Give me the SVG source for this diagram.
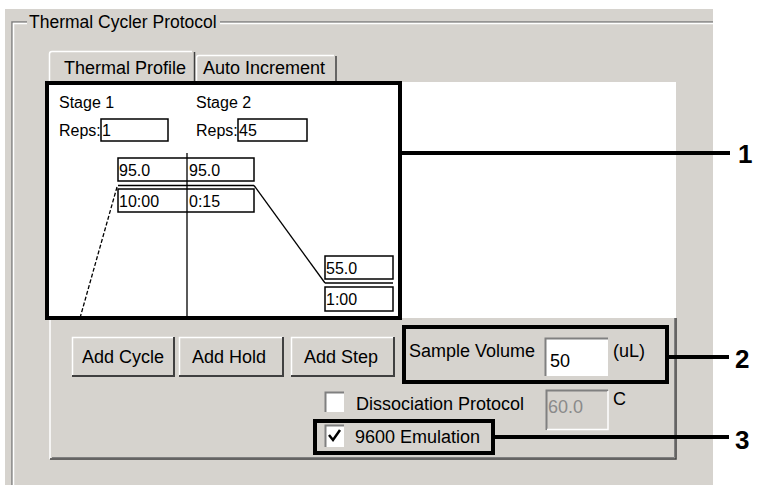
<svg xmlns="http://www.w3.org/2000/svg" width="759" height="485" viewBox="0 0 759 485">
<style>
.ui{font-family:"Liberation Sans",Arial,sans-serif;font-size:18px;fill:#000}
.sm{font-family:"Liberation Sans",Arial,sans-serif;font-size:16px;fill:#000}
.num{font-family:"Liberation Sans",Arial,sans-serif;font-size:26px;font-weight:bold;fill:#000}
.hl{fill:none;stroke:#000;stroke-width:4}
.lead{stroke:#000;stroke-width:4;fill:none}
.fld{fill:#fff;stroke:#000;stroke-width:1.5}
.dk{stroke:#808080;stroke-width:1.5;fill:none}
.lt{stroke:#fff;stroke-width:1.5;fill:none}
.gr{stroke:#000;stroke-width:1.3;fill:none}
</style>
<rect x="0" y="0" width="759" height="485" fill="#fff"/>
<rect x="5" y="9" width="708" height="476" fill="#d6d3ce"/>
<g id="groupbox">
<path class="dk" d="M12,485 V22 H27 M220,22 H713"/>
<path class="lt" d="M13.5,485 V23.5 H27 M220,23.5 H713"/>
<text class="ui" x="29" y="28" style="font-size:17.5px">Thermal Cycler Protocol</text>
</g>
<g id="tabs">
<path d="M196,82 V58 Q196,55 199,55 H334 Q337,55 337,58 V82" fill="#d6d3ce"/>
<path class="lt" d="M196.5,82 V58 Q196.5,55.5 199,55.5 H334"/>
<path d="M336,56 V82" stroke="#404040" stroke-width="1.5"/>
<text class="ui" x="203" y="74">Auto Increment</text>
<path d="M49,84 V54 Q49,51 52,51 H192 Q195,51 195,54 V84" fill="#d6d3ce"/>
<path class="lt" d="M49.5,84 V54 Q49.5,51.5 52,51.5 H192"/>
<path d="M194.5,52 V82" stroke="#404040" stroke-width="1.5"/>
<text class="ui" x="64" y="74">Thermal Profile</text>
</g>
<g id="panel">
<rect x="47" y="82" width="629" height="236" fill="#fff"/>
<path class="lt" d="M50,318 V459"/>
<path d="M50,459 H676 V318" stroke="#404040" stroke-width="1.5" fill="none"/>
<path d="M52,457.5 H674.5 V318" stroke="#808080" stroke-width="1" fill="none"/>
</g>
<g id="profile">
<text class="sm" x="59" y="108">Stage 1</text>
<text class="sm" x="196" y="108">Stage 2</text>
<text class="sm" x="59" y="136">Reps:</text>
<rect class="fld" x="101" y="119" width="67" height="22"/>
<text class="sm" x="102" y="136">1</text>
<text class="sm" x="196" y="136">Reps:</text>
<rect class="fld" x="238" y="119" width="69" height="22"/>
<text class="sm" x="239" y="136">45</text>
<rect class="fld" x="118" y="158" width="136" height="23"/>
<text class="sm" x="119" y="176">95.0</text>
<text class="sm" x="189" y="176">95.0</text>
<rect class="fld" x="118" y="189" width="136" height="23"/>
<text class="sm" x="119" y="207">10:00</text>
<text class="sm" x="189" y="207">0:15</text>
<path class="gr" d="M187,153 V318"/>
<path class="gr" d="M118,185.5 H254"/>
<path class="gr" d="M117,187 L80,318" stroke-dasharray="4,2"/>
<path class="gr" d="M254,185.5 L325,283"/>
<rect class="fld" x="325" y="256" width="68" height="23"/>
<text class="sm" x="326" y="274">55.0</text>
<path class="gr" d="M325,283 H393"/>
<rect class="fld" x="325" y="287" width="68" height="24"/>
<text class="sm" x="326" y="305">1:00</text>
</g>
<g id="buttons">
<g id="btn-cycle">
<rect x="72" y="337" width="102" height="39" fill="#d6d3ce"/>
<path d="M72.5,376 V337.5 H174" stroke="#fff" stroke-width="1.5" fill="none"/>
<path d="M72,376 H174 V337" stroke="#404040" stroke-width="2" fill="none"/>
<text class="ui" x="82" y="363">Add Cycle</text>
</g>
<g id="btn-hold">
<rect x="179" y="337" width="104" height="39" fill="#d6d3ce"/>
<path d="M179.5,376 V337.5 H283" stroke="#fff" stroke-width="1.5" fill="none"/>
<path d="M179,376 H283 V337" stroke="#404040" stroke-width="2" fill="none"/>
<text class="ui" x="192" y="363">Add Hold</text>
</g>
<g id="btn-step">
<rect x="291" y="337" width="103" height="39" fill="#d6d3ce"/>
<path d="M291.5,376 V337.5 H394" stroke="#fff" stroke-width="1.5" fill="none"/>
<path d="M291,376 H394 V337" stroke="#404040" stroke-width="2" fill="none"/>
<text class="ui" x="304" y="363">Add Step</text>
</g>
</g>
<g id="sample-volume">
<text class="ui" x="409" y="357">Sample Volume</text>
<rect x="545" y="338" width="63" height="38" fill="#fff"/>
<path d="M545.5,376 V338.5 H608" stroke="#808080" stroke-width="2" fill="none"/>
<text class="ui" x="550" y="367">50</text>
<text class="ui" x="613" y="357">(uL)</text>
</g>
<g id="dissociation">
<rect x="325" y="392" width="19" height="20" fill="#fff"/>
<path d="M325.5,412 V392.5 H344" stroke="#808080" stroke-width="2" fill="none"/>
<text class="ui" x="356" y="410">Dissociation Protocol</text>
<rect x="546" y="390" width="62" height="40" fill="#d6d3ce"/>
<path d="M546.5,430 V390.5 H608" stroke="#808080" stroke-width="2" fill="none"/>
<path d="M547,429.5 H608 V391" stroke="#fff" stroke-width="1.5" fill="none"/>
<text class="ui" x="548" y="413" style="fill:#8a8a8a">60.0</text>
<text class="ui" x="613" y="405">C</text>
</g>
<g id="emulation">
<rect x="325" y="425" width="19" height="22" fill="#fff"/>
<path d="M325.5,447 V425.5 H344" stroke="#808080" stroke-width="2" fill="none"/>
<path d="M329,435 L333,440 L340,430" stroke="#000" stroke-width="2.5" fill="none"/>
<text class="ui" x="355" y="443">9600 Emulation</text>
</g>
<g id="callouts">
<rect class="hl" x="47" y="83" width="353" height="235"/>
<rect class="hl" x="404" y="327" width="263" height="55"/>
<rect class="hl" x="315" y="421" width="178" height="32"/>
<path class="lead" d="M400,153 H730"/>
<path class="lead" d="M667,357 H729"/>
<path class="lead" d="M493,437 H729"/>
<text class="num" x="738" y="163">1</text>
<text class="num" x="735" y="368">2</text>
<text class="num" x="735" y="449">3</text>
</g>
</svg>
